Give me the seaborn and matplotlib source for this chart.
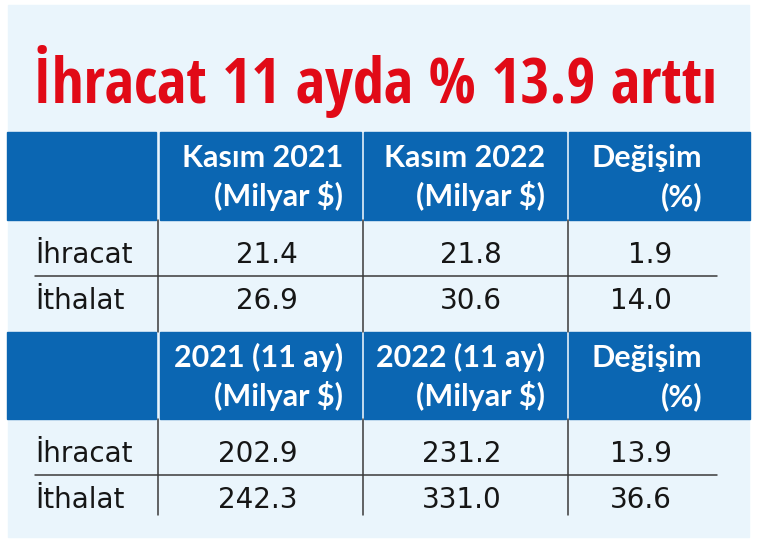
import matplotlib
matplotlib.use("Agg")

import matplotlib.pyplot as plt
from matplotlib import font_manager as fm
from matplotlib.textpath import TextToPath
from matplotlib.patches import Rectangle
import seaborn as sns

# --- data ---
title = "İhracat 11 ayda % 13.9 arttı"
row_labels = ["İhracat", "İthalat"]
monthly_headers = [("Kasım 2021", "(Milyar $)"), ("Kasım 2022", "(Milyar $)"), ("Değişim", "(%)")]
ytd_headers = [("2021 (11 ay)", "(Milyar $)"), ("2022 (11 ay)", "(Milyar $)"), ("Değişim", "(%)")]
monthly_2021 = [21.4, 26.9]
monthly_2022 = [21.8, 30.6]
monthly_change = [1.9, 14.0]
ytd_2021 = [202.9, 242.3]
ytd_2022 = [231.2, 331.0]
ytd_change = [13.9, 36.6]

# --- style ---
BG = "#eaf5fc"
BLUE = "#0b66b2"
RED = "#e10a17"
INK = "#161616"

sns.set_theme(style="white")
names = {f.name for f in fm.fontManager.ttflist}
head_font = "Lato" if "Lato" in names else "DejaVu Sans"
plt.rcParams["font.family"] = ["DejaVu Sans"]


def weight_num(w):
    try:
        return int(w)
    except (TypeError, ValueError):
        return {"bold": 700, "semibold": 600, "demibold": 600, "heavy": 800,
                "extra bold": 800, "black": 900}.get(str(w).lower(), 400)


# narrowest plain sans bold face that has every glyph of the headline
sans_families = ("DejaVu Sans", "Liberation Sans", "Noto Sans", "Roboto",
                 "Open Sans", "Lato", "Inter")
needed = {ord(c) for c in title if c != " "}
t2p = TextToPath()
best, best_w = None, None
for f in fm.fontManager.ttflist:
    if not f.name.startswith(sans_families):
        continue
    if "CJK" in f.name or "Mono" in f.name or f.style != "normal":
        continue
    if weight_num(f.weight) < 600:
        continue
    try:
        if not needed <= set(fm.get_font(f.fname).get_charmap()):
            continue
        fp = fm.FontProperties(fname=f.fname, size=100)
        w, h, d = t2p.get_text_width_height_descent(title, fp, ismath=False)
    except Exception:
        continue
    if best_w is None or w < best_w:
        best, best_w = f.fname, w
title_prop = fm.FontProperties(fname=best) if best else fm.FontProperties(family=head_font, weight="bold")

fig = plt.figure(figsize=(7.7, 5.42), dpi=100, facecolor="white")
ax = fig.add_axes([0, 0, 1, 1])
ax.set_xlim(0, 770)
ax.set_ylim(542, 0)
ax.axis("off")

ax.add_patch(Rectangle((8, 5), 741, 532, color=BG, zorder=0))

t = ax.text(33, 103, title, color=RED, fontproperties=title_prop,
            ha="left", va="baseline")
t.set_fontsize(60)
fig.canvas.draw()
w = t.get_window_extent().width
t.set_fontsize(60 * 684 / w)

col_blocks = [(7, 156), (160, 361), (364, 566), (569, 750)]
col_lines = [158, 362.5, 567.5]
head_right = [343, 545, 702]
val_right = [298, 502, 672]


def draw_section(top, bottom, headers, cols, rows_base, line_end):
    for x0, x1 in col_blocks:
        ax.add_patch(Rectangle((x0, top), x1 - x0, bottom - top, color=BLUE, zorder=1))
    for (l1, l2), xr in zip(headers, head_right):
        ax.text(xr, top + 35, l1, color="white", fontsize=22, fontweight="bold",
                family=[head_font, "DejaVu Sans"], ha="right", va="baseline")
        ax.text(xr, top + 74, l2, color="white", fontsize=22, fontweight="bold",
                family=[head_font, "DejaVu Sans"], ha="right", va="baseline")
    for x in col_lines:
        ax.plot([x, x], [bottom, line_end], color="#3a3a3a", lw=1.1, zorder=2)
    mid = (rows_base[0] + rows_base[1]) / 2 - 10
    ax.plot([35, 717], [mid, mid], color="#3a3a3a", lw=1.1, zorder=2)
    for i, yb in enumerate(rows_base):
        ax.text(35, yb, row_labels[i], color=INK, fontsize=20, ha="left", va="baseline")
        for series, xr in zip(cols, val_right):
            ax.text(xr, yb, f"{series[i]:.1f}", color=INK, fontsize=20,
                    ha="right", va="baseline")


draw_section(132, 220, monthly_headers, [monthly_2021, monthly_2022, monthly_change],
             [263, 309], 332)
draw_section(332, 419, ytd_headers, [ytd_2021, ytd_2022, ytd_change],
             [462, 508], 515)

fig.savefig("out.png", dpi=100, facecolor="white")
